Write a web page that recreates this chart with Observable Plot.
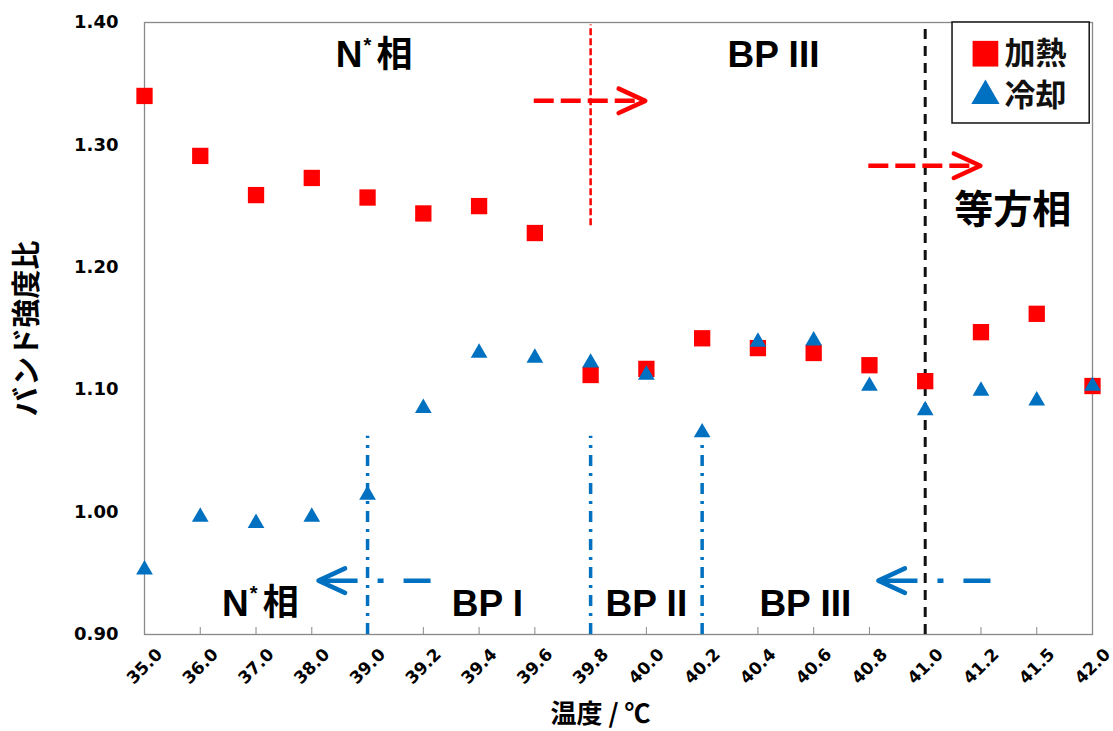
<!DOCTYPE html>
<html><head><meta charset="utf-8">
<script src="https://cdn.jsdelivr.net/npm/d3@7"></script>
<script src="https://cdn.jsdelivr.net/npm/@observablehq/plot@0.6"></script>
<style>body{margin:0;background:#fff}</style>
</head><body><div id="chart"></div>
<script>
const temps = ["35.0","36.0","37.0","38.0","39.0","39.2","39.4","39.6","39.8","40.0","40.2","40.4","40.6","40.8","41.0","41.2","41.5","42.0"];
const heating = [1.340,1.291,1.259,1.273,1.257,1.244,1.250,1.228,1.112,1.117,1.142,1.134,1.130,1.120,1.107,1.147,1.162,1.103];
const cooling = [0.953,0.996,0.991,0.996,1.014,1.085,1.130,1.126,1.122,1.112,1.065,1.139,1.140,1.103,1.083,1.099,1.091,1.103];
const yTicks = [0.90,1.00,1.10,1.20,1.30,1.40];
const seriesNames = ["加熱","冷却"];
const xTitle = "温度 / ℃";
const yTitle = "バンド強度比";

// annotations (index positions on the category axis, values on y)
const redArrows = [{x1:6.98,x2:8.98,y:1.336},{x1:12.98,x2:14.99,y:1.283}];
const blueArrows = [{x1:5.13,x2:3.12,y:0.944},{x1:15.17,x2:13.16,y:0.944}];
const redVLines = [{x:8,y1:1.234,y2:1.398}];
const blackVLines = [{x:14,y1:0.90,y2:1.40}];
const blueVLines = [{x:4,y1:0.90,y2:1.062},{x:8,y1:0.90,y2:1.062},{x:10,y1:0.90,y2:1.055}];
const phaseLabels = [
  {x:11.28,y:1.373,t:"BP III"},
  {x:6.15,y:0.925,t:"BP I"},
  {x:9.0,y:0.925,t:"BP II"},
  {x:11.85,y:0.925,t:"BP III"}
];
const nStarLabels = [{x:3.91,y:1.373},{x:1.87,y:0.925}];
const isoLabel = [{x:15.57,y:1.246,t:"等方相"}];
const legendBox = [{x1:14.49,x2:16.95,y1:1.3175,y2:1.40}];
const legendItems = [{x:15.08,y:1.3745,name:seriesNames[0]},{x:15.08,y:1.340,name:seriesNames[1]}];

const heatData = temps.map((t,i)=>({i,v:heating[i]}));
const coolData = temps.map((t,i)=>({i,v:cooling[i]}));

const chevron = {draw(ctx,size){const s=Math.sqrt(size);const l=s*1.0,w=s*0.46;ctx.moveTo(-l,-w);ctx.lineTo(0,0);ctx.lineTo(-l,w);}};

const LAT = "Liberation Sans, Noto Sans CJK JP, sans-serif";
const CJK = "Noto Sans CJK JP, sans-serif";
const NUM = "DejaVu Sans, sans-serif";
const RED = "#ff0000", BLUE = "#0070c0";
const idx = d3.range(temps.length);

const chart = Plot.plot({
  width:1113, height:731,
  marginLeft:144, marginRight:21, marginTop:22, marginBottom:97,
  x:{domain:[0,17]},
  y:{domain:[0.9,1.4]},
  marks:[
    Plot.frame({stroke:"#888", strokeWidth:1.3}),
    Plot.axisY({ticks:yTicks, tickFormat:d=>d.toFixed(2), tickSize:0, tickPadding:26, fontSize:18, fontWeight:"bold", label:null}),
    Plot.axisX({ticks:idx, tickFormat:()=>"", tickSize:-7, stroke:"#888", label:null}),
    Plot.axisX({ticks:idx, tickFormat:i=>temps[i], tickRotate:-45, tickSize:0, tickPadding:17, dx:15, fontSize:17, fontWeight:"bold", label:null}),
    Plot.ruleX(blackVLines,{x:"x",y1:"y1",y2:"y2",stroke:"#111",strokeWidth:3,strokeDasharray:"10,7"}),
    Plot.ruleX(redVLines,{x:"x",y1:"y1",y2:"y2",stroke:RED,strokeWidth:2.5,strokeDasharray:"7,3"}),
    Plot.ruleX(blueVLines,{x:"x",y1:"y1",y2:"y2",stroke:BLUE,strokeWidth:3.5,strokeDasharray:"11,7,3,7"}),
    Plot.link(redArrows,{x1:"x1",x2:"x2",y1:"y",y2:"y",stroke:RED,strokeWidth:4.5,strokeDasharray:"20,7"}),
    Plot.dot(redArrows,{x:"x2",y:"y",symbol:chevron,r:15,fill:"none",stroke:RED,strokeWidth:4.5,strokeLinecap:"round",strokeLinejoin:"round"}),
    Plot.link(blueArrows,{x1:"x1",x2:"x2",y1:"y",y2:"y",stroke:BLUE,strokeWidth:4.5,strokeDasharray:"27,20,6,20,60"}),
    Plot.dot(blueArrows,{x:"x2",y:"y",symbol:chevron,r:15,rotate:180,fill:"none",stroke:BLUE,strokeWidth:4.5,strokeLinecap:"round",strokeLinejoin:"round"}),
    Plot.dot(heatData,{x:"i",y:"v",symbol:"square",r:9.2,fill:RED,stroke:null}),
    Plot.dot(coolData,{x:"i",y:"v",symbol:"triangle",r:6.2,fill:BLUE,stroke:null}),
    Plot.rect(legendBox,{x1:"x1",x2:"x2",y1:"y1",y2:"y2",fill:"#fff",stroke:"#111",strokeWidth:1.5}),
    Plot.dot(legendItems.slice(0,1),{x:"x",y:"y",symbol:"square",r:14.5,fill:RED}),
    Plot.dot(legendItems.slice(1),{x:"x",y:"y",symbol:"triangle",r:10.5,fill:BLUE}),
    Plot.text(legendItems,{x:"x",y:"y",text:"name",textAnchor:"start",dx:19,fontSize:31,fontWeight:"bold",fill:"#111",className:"cjk"}),
    Plot.text(phaseLabels,{x:"x",y:"y",text:"t",fontSize:37,fontWeight:"bold",fill:"#000",className:"lat"}),
    Plot.text(nStarLabels,{x:"x",y:"y",text:()=>"N",textAnchor:"end",fontSize:37,fontWeight:"bold",fill:"#000",className:"lat"}),
    Plot.text(nStarLabels,{x:"x",y:"y",text:()=>"*",textAnchor:"start",dx:1,dy:-10,fontSize:20,fontWeight:"bold",fill:"#000",className:"lat"}),
    Plot.text(nStarLabels,{x:"x",y:"y",text:()=>"相",textAnchor:"start",dx:14,fontSize:36,fontWeight:"bold",fill:"#000",className:"cjk"}),
    Plot.text(isoLabel,{x:"x",y:"y",text:"t",fontSize:39,fontWeight:"bold",fill:"#000",className:"cjk"}),
    Plot.text([yTitle],{frameAnchor:"left",textAnchor:"middle",dx:-117,rotate:-90,fontSize:29,fontWeight:"bold",fill:"#000",className:"cjk"}),
    Plot.text([xTitle],{frameAnchor:"bottom",lineAnchor:"middle",dx:-18,dy:80,fontSize:26,fontWeight:"bold",fill:"#000",className:"cjk"})
  ]
});
document.getElementById("chart").appendChild(chart);
d3.select(chart).selectAll('g[aria-label="x-axis tick label"], g[aria-label="y-axis tick label"]').attr("font-family", NUM);
d3.select(chart).selectAll('g.cjk').attr("font-family", CJK);
d3.select(chart).selectAll('g.lat').attr("font-family", LAT);
</script>
</body></html>
